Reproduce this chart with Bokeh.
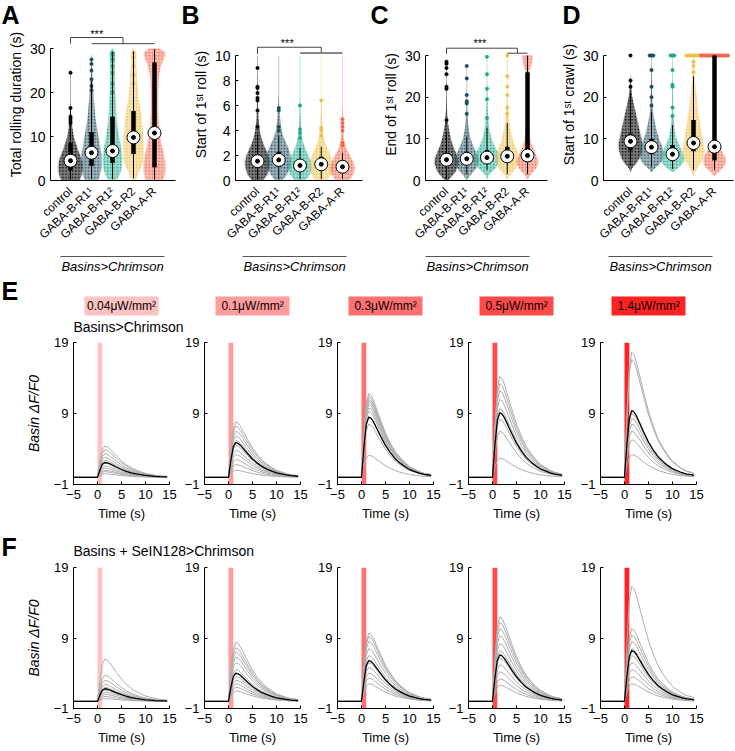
from bokeh.plotting import figure
from bokeh.models import FixedTicker, Range1d
from bokeh.layouts import column, row
from bokeh.core.properties import value
from bokeh.embed import file_html
from bokeh.resources import INLINE

FONT = "Liberation Sans"

# ---------------- data: panels A-D ----------------
groups = ["control", "GABA-B-R1\u00b9", "GABA-B-R1\u00b2", "GABA-B-R2", "GABA-A-R"]
group_colors = ["#000000", "#1E4A5C", "#1BA88D", "#EBC14E", "#F2664C"]
genotype = "Basins>Chrimson"

A_levels = [0, 1, 2, 3, 4, 5, 6, 7, 8, 9, 10, 12, 14, 16, 18, 20, 22, 24, 26, 28, 29, 30]
A_widths = [
    [0.50, 0.60, 0.65, 0.66, 0.65, 0.60, 0.50, 0.40, 0.33, 0.25, 0.18, 0.10, 0.05, 0.02, 0, 0, 0, 0, 0, 0, 0, 0],
    [0.35, 0.45, 0.50, 0.55, 0.55, 0.55, 0.55, 0.50, 0.45, 0.42, 0.38, 0.30, 0.22, 0.18, 0.14, 0.10, 0.07, 0.04, 0.02, 0.01, 0, 0],
    [0.20, 0.35, 0.45, 0.50, 0.52, 0.52, 0.50, 0.48, 0.45, 0.40, 0.35, 0.28, 0.22, 0.20, 0.18, 0.15, 0.13, 0.12, 0.12, 0.15, 0.15, 0.02],
    [0.10, 0.20, 0.30, 0.40, 0.50, 0.55, 0.55, 0.55, 0.55, 0.55, 0.55, 0.50, 0.45, 0.40, 0.30, 0.25, 0.20, 0.18, 0.15, 0.15, 0.15, 0.02],
    [0.45, 0.55, 0.60, 0.60, 0.60, 0.55, 0.50, 0.45, 0.40, 0.35, 0.30, 0.25, 0.22, 0.20, 0.20, 0.20, 0.22, 0.25, 0.35, 0.55, 0.60, 0.30],
]
A_med = [4.5, 6.3, 6.7, 9.8, 10.8]
A_q1 = [2.3, 3.3, 4.0, 6.0, 3.0]
A_q3 = [8.5, 11.0, 14.5, 15.8, 26.8]
A_wlo = [0.2, 0.3, 0.3, 0.5, 0.2]
A_whi = [16.5, 22.5, 29.2, 29.3, 29.8]
A_tail = [24.5, 28.0, 29.5, 29.5, 30.0]
A_pts = [[13.0, 13.5, 14.0, 14.5, 16.5, 24.5], [20.5, 21.5, 23.0, 25.0, 26.5, 27.5],
         [20.0, 22.0, 24.5, 26.0, 27.5, 28.5, 29.0], [22.0, 24.0, 26.0, 28.0, 29.0], []]

B_levels = [0, 0.5, 1, 1.5, 2, 2.5, 3, 3.5, 4, 5, 6, 7, 8, 9]
B_widths = [
    [0.30, 0.55, 0.65, 0.68, 0.60, 0.45, 0.30, 0.20, 0.12, 0.05, 0.03, 0.02, 0.01, 0],
    [0.20, 0.45, 0.60, 0.68, 0.65, 0.55, 0.40, 0.25, 0.15, 0.07, 0.02, 0, 0, 0],
    [0.30, 0.55, 0.65, 0.60, 0.45, 0.30, 0.18, 0.10, 0.06, 0.03, 0.01, 0, 0, 0],
    [0.30, 0.55, 0.65, 0.62, 0.50, 0.35, 0.22, 0.12, 0.07, 0.04, 0.02, 0, 0, 0],
    [0.35, 0.60, 0.68, 0.58, 0.40, 0.22, 0.12, 0.07, 0.04, 0.02, 0, 0, 0, 0],
]
B_med = [1.55, 1.65, 1.2, 1.3, 1.1]
B_q1 = [1.0, 1.1, 0.85, 0.9, 0.75]
B_q3 = [2.1, 2.3, 1.7, 1.9, 1.5]
B_wlo = [0.05, 0.1, 0.1, 0.1, 0.1]
B_whi = [3.7, 3.6, 2.6, 2.7, 2.2]
B_tail = [10.0, 10.0, 10.0, 10.0, 10.0]
B_pts = [[4.3, 5.6, 6.4, 6.6, 7.0, 7.4, 7.5, 9.0], [4.0, 4.3, 5.6, 5.8], [3.4, 3.8, 4.1, 6.0],
         [3.6, 4.0, 4.2, 6.4], [2.8, 3.0, 4.0, 4.3, 4.6, 4.9]]

C_levels = [0, 1, 2, 3, 4, 5, 6, 7, 8, 9, 10, 12, 14, 16, 18, 20, 22, 24, 26, 28, 30]
C_widths = [
    [0.10, 0.30, 0.50, 0.60, 0.68, 0.68, 0.60, 0.50, 0.40, 0.32, 0.25, 0.15, 0.08, 0.04, 0.02, 0.01, 0, 0, 0, 0, 0],
    [0, 0.15, 0.35, 0.55, 0.65, 0.68, 0.62, 0.50, 0.40, 0.30, 0.22, 0.12, 0.07, 0.04, 0.02, 0.01, 0, 0, 0, 0, 0],
    [0, 0.05, 0.25, 0.50, 0.62, 0.68, 0.65, 0.58, 0.45, 0.35, 0.25, 0.15, 0.09, 0.05, 0.03, 0.02, 0.01, 0, 0, 0, 0],
    [0, 0.10, 0.30, 0.50, 0.62, 0.68, 0.65, 0.58, 0.48, 0.38, 0.30, 0.20, 0.12, 0.07, 0.04, 0.02, 0.01, 0.01, 0.01, 0.02, 0],
    [0, 0.10, 0.30, 0.50, 0.60, 0.60, 0.50, 0.40, 0.30, 0.22, 0.15, 0.10, 0.07, 0.05, 0.04, 0.04, 0.04, 0.05, 0.08, 0.25, 0.30],
]
C_med = [5.0, 5.2, 5.5, 5.8, 6.0]
C_q1 = [3.7, 4.0, 4.3, 4.4, 4.5]
C_q3 = [6.5, 6.9, 7.3, 8.1, 26.0]
C_wlo = [0.3, 1.5, 2.5, 1.5, 1.5]
C_whi = [11.5, 10.5, 12.7, 13.8, 30.0]
C_tail = [28.5, 27.5, 29.7, 30.0, 30.0]
C_pts = [[14.5, 22.0, 22.5, 25.5, 27.0, 28.0, 28.5], [16.0, 18.5, 19.0, 20.5, 24.5, 27.5],
         [15.0, 19.5, 22.0, 25.5, 29.7], [16.0, 17.5, 20.5, 22.5, 25.0, 30.0], []]

D_levels = [0, 1, 2, 3, 4, 5, 6, 7, 8, 9, 10, 12, 14, 16, 18, 20, 22, 24, 26, 28, 30]
D_widths = [
    [0, 0, 0, 0.10, 0.30, 0.45, 0.55, 0.62, 0.65, 0.65, 0.60, 0.50, 0.40, 0.30, 0.20, 0.10, 0.05, 0.02, 0, 0, 0],
    [0, 0, 0, 0.20, 0.45, 0.60, 0.65, 0.65, 0.60, 0.50, 0.42, 0.28, 0.18, 0.10, 0.06, 0.04, 0.03, 0.02, 0.01, 0, 0],
    [0, 0, 0, 0.30, 0.55, 0.65, 0.62, 0.52, 0.42, 0.32, 0.22, 0.12, 0.07, 0.04, 0.03, 0.03, 0.02, 0.01, 0, 0, 0],
    [0, 0, 0.10, 0.20, 0.35, 0.50, 0.55, 0.60, 0.60, 0.55, 0.50, 0.42, 0.35, 0.28, 0.22, 0.18, 0.12, 0.08, 0.05, 0.03, 0],
    [0, 0, 0.20, 0.45, 0.60, 0.62, 0.55, 0.40, 0.25, 0.12, 0.06, 0.03, 0.02, 0.01, 0, 0, 0, 0, 0, 0, 0],
]
D_med = [9.4, 8.0, 6.3, 9.0, 8.1]
D_q1 = [7.2, 6.3, 5.0, 7.0, 4.8]
D_q3 = [11.2, 10.0, 8.5, 14.5, 30.0]
D_wlo = [3.5, 3.3, 2.8, 2.5, 2.5]
D_whi = [21.0, 16.5, 13.3, 25.0, 30.0]
D_tail = [24.0, 30.0, 30.0, 30.0, 30.0]
D_pts = [[22.5, 24.0], [18.0, 20.0, 22.5, 26.5], [15.5, 17.5, 22.5, 23.0, 26.5], [26.0, 27.5, 28.5], []]
D_n30 = [1, 3, 3, 9, 16]

# ---------------- data: panels E-F ----------------
powers = ["0.04\u03bcW/mm\u00b2", "0.1\u03bcW/mm\u00b2", "0.3\u03bcW/mm\u00b2", "0.5\u03bcW/mm\u00b2", "1.4\u03bcW/mm\u00b2"]
stim_colors = ["#FFC2C2", "#FF9C9C", "#FF7070", "#FF4A4A", "#FF2222"]
stim_on, stim_off = 0.0, 1.0
trace_t = [-5, -4, -3, -2, -1, 0, 0.5, 1, 1.5, 2, 2.5, 3, 4, 5, 6, 7, 8, 9, 10, 11, 12, 13, 14, 14.5]
trace_shape = [0, 0, 0, 0, 0, 0, 0.5, 0.88, 1.0, 0.98, 0.92, 0.84, 0.68, 0.53, 0.41, 0.31, 0.24,
               0.18, 0.13, 0.10, 0.07, 0.05, 0.04, 0.03]
E_mean = [2.1, 4.9, 8.5, 9.1, 9.4]
E_gray = [
    [0.5, 0.8, 1.0, 1.3, 1.6, 2.0, 2.4, 2.8, 3.3, 3.9, 4.4],
    [1.0, 1.8, 2.5, 3.2, 3.8, 4.5, 5.2, 5.8, 6.5, 7.2, 7.8],
    [3.1, 7.5, 8.5, 9.3, 9.8, 10.3, 10.7, 11.0, 11.4, 11.8],
    [2.7, 6.5, 8.2, 9.7, 11.0, 12.2, 13.2, 14.2],
    [3.2, 5.3, 6.5, 7.5, 8.3, 9.0, 16.6, 17.6],
]
F_mean = [1.8, 4.0, 5.8, 6.6, 7.2]
F_gray = [
    [0.4, 0.7, 1.0, 1.3, 1.6, 2.0, 2.4, 3.0, 3.7, 6.0],
    [1.5, 2.0, 2.5, 3.0, 3.5, 4.5, 5.5, 6.3, 7.0, 7.6, 8.4],
    [2.5, 3.3, 4.0, 4.8, 5.5, 6.5, 7.5, 8.5, 9.2, 9.7],
    [2.3, 3.2, 4.2, 5.2, 6.2, 7.2, 8.2, 9.3, 10.3, 11.2, 12.0],
    [2.5, 3.5, 4.5, 5.5, 6.5, 7.5, 8.5, 9.4, 10.3, 16.3],
]
E_subtitle = "Basins>Chrimson"
F_subtitle = "Basins + SeIN128>Chrimson"

# ---------------- layout constants (pixels) ----------------
W = 734
TOP_FH = 152


# ---------------- helpers ----------------
def style(p, tick_size, label_size):
    for ax in (p.xaxis[0], p.yaxis[0]):
        ax.axis_line_color = "black"
        ax.axis_line_width = 1
        ax.major_tick_in = 3
        ax.major_tick_out = 0
        ax.major_tick_line_color = "black"
        ax.minor_tick_line_color = None
        ax.major_label_text_font = FONT
        ax.major_label_text_font_size = tick_size
        ax.major_label_text_color = "black"
        ax.axis_label_text_font = FONT
        ax.axis_label_text_font_size = label_size
        ax.axis_label_text_font_style = "normal"
        ax.axis_label_text_color = "black"
    p.xgrid.visible = False
    p.ygrid.visible = False
    p.outline_line_color = None


def strip(height):
    p = figure(frame_width=W, frame_height=height, x_range=Range1d(0, W), y_range=Range1d(0, height),
               min_border=0, x_axis_location=None, y_axis_location=None, output_backend="svg",
               toolbar_location=None, title=None)
    p.xgrid.visible = False
    p.ygrid.visible = False
    p.outline_line_color = None
    return p


def put_text(p, xs, ys, texts, size, align="left", style_="normal", weight=None):
    p.text(x=xs, y=ys, text=texts, text_font=value(FONT), text_font_size=size, text_align=align,
           text_baseline="middle", text_font_style=weight or style_, text_color="black")


def violin_panel(frame_w, b_left, b_right, x0, px_cat, px_unit, yticks, ybound, ylabel,
                 levels, widths, med, q1, q3, wlo, whi, tail, pts, n30=None):
    y1 = TOP_FH / px_unit
    x1 = x0 + frame_w / px_cat
    p = figure(frame_width=frame_w, frame_height=TOP_FH, min_border_left=b_left, min_border_right=b_right,
               min_border_top=0, min_border_bottom=70, x_range=Range1d(x0, x1), y_range=Range1d(0, y1),
               output_backend="svg", toolbar_location=None, title=None)
    style(p, "14px", "14px")
    p.yaxis.ticker = FixedTicker(ticks=yticks)
    p.yaxis.bounds = ybound
    p.yaxis.axis_label = ylabel
    p.yaxis.major_label_standoff = 5
    p.yaxis.axis_label_standoff = 3
    p.xaxis.ticker = FixedTicker(ticks=[1, 2, 3, 4, 5])
    p.xaxis.major_label_overrides = {i + 1: g for i, g in enumerate(groups)}
    p.xaxis.major_label_orientation = 0.75
    p.xaxis.major_label_text_font_size = "12px"
    p.xaxis.major_tick_in = 0
    p.xaxis.major_label_standoff = 9
    for i in range(5):
        c = i + 1
        col = group_colors[i]
        w = [0.85 * v for v in widths[i]]
        ys = list(levels) + list(reversed(levels))
        xs_halo = [c + 1.12 * v for v in w] + [c - 1.12 * v for v in reversed(w)]
        xs = [c + v for v in w] + [c - v for v in reversed(w)]
        p.segment(x0=[c], y0=[q3[i]], x1=[c], y1=[tail[i]], line_color=col, line_alpha=0.3, line_width=1)
        p.patch(xs_halo, ys, fill_color=col, fill_alpha=0.12, line_color=None)
        p.patch(xs, ys, fill_color=col, fill_alpha=0.35 if i else 0.45, line_color=None,
                hatch_pattern="dot", hatch_color=col, hatch_alpha=1.0, hatch_scale=3.2, hatch_weight=1.6)
        if pts[i]:
            p.scatter(x=[c] * len(pts[i]), y=pts[i], size=3.5, fill_color=col, line_color=col, line_width=0.5)
        if n30 is not None and n30[i]:
            n = n30[i]
            p.scatter(x=[c + (k - (n - 1) / 2) * 0.085 for k in range(n)], y=[30] * n, size=3.5,
                      fill_color=col, line_color=col, line_width=0.5)
    for i in range(5):
        c = i + 1
        p.segment(x0=[c], y0=[wlo[i]], x1=[c], y1=[whi[i]], line_color="black", line_width=1)
        p.segment(x0=[c], y0=[q1[i]], x1=[c], y1=[q3[i]], line_color="black", line_width=4.5, line_cap="butt")
        p.scatter(x=[c], y=[med[i]], size=13, fill_color="white", line_color="black", line_width=1)
        p.scatter(x=[c], y=[med[i]], size=4, fill_color="black", line_color="black")
    return p


def bracket(p, xl, xr, y_top, y_left, y_right, lo_x0, lo_x1, y_lo, star_x, star_y, lo_color, lo_w):
    p.line([xl, xl, xr, xr], [y_left, y_top, y_top, y_right], line_color="#444444", line_width=1)
    p.line([lo_x0, lo_x1], [y_lo, y_lo], line_color=lo_color, line_width=lo_w)
    put_text(p, [star_x], [star_y], ["***"], "11px", align="center")


pA = violin_panel(125, 50, 5, 1 - 20 / 21, 21, 4.4, [0, 10, 20, 30], (0, 30),
                  "Total rolling duration (s)", A_levels, A_widths, A_med, A_q1, A_q3, A_wlo, A_whi,
                  A_tail, A_pts)
bracket(pA, 1, 3.5, 32.5, 31.1, 31.1, 2, 5, 31.1, 2.25, 33.4, "#444444", 1)

pB = violin_panel(127, 55, 8, 1 - 22 / 21.25, 21.25, 12.5, [0, 2, 4, 6, 8, 10], (0, 10),
                  "Start of 1\u02e2\u1d57 roll (s)", B_levels, B_widths, B_med, B_q1, B_q3, B_wlo, B_whi,
                  B_tail, B_pts)
bracket(pB, 1, 4, 10.66, 10.13, 10.2, 3, 5, 10.2, 2.4, 11.0, "#888888", 2)

pC = violin_panel(122, 55, 3, 1 - 21 / 20.25, 20.25, 152 / 36.48, [0, 10, 20, 30], (0, 30),
                  "End of 1\u02e2\u1d57 roll (s)", C_levels, C_widths, C_med, C_q1, C_q3, C_wlo, C_whi,
                  C_tail, C_pts)
bracket(pC, 1, 4.5, 31.75, 30.4, 30.55, 4, 5, 30.55, 2.65, 32.95, "#444444", 1)

pD = violin_panel(130, 53, 1, 1 - 27 / 21, 21, 152 / 36.48, [0, 10, 20, 30], (0, 30),
                  "Start of 1\u02e2\u1d57 crawl (s)", D_levels, D_widths, D_med, D_q1, D_q3, D_wlo, D_whi,
                  D_tail, D_pts, n30=D_n30)

# strip with panel letters A-D (28 px tall)
s_letters = strip(28)
put_text(s_letters, [1, 181, 370, 562], [14] * 4, ["A", "B", "C", "D"], "25px", weight="bold")

# strip with genotype underline under A-D (26 px tall)
under_cx = [112, 294, 477, 660]
s_geno = strip(26)
s_geno.segment(x0=[c - 52 for c in under_cx], y0=[20] * 4, x1=[c + 52 for c in under_cx], y1=[20] * 4,
               line_color="#555555", line_width=1)
put_text(s_geno, under_cx, [10] * 4, [genotype] * 4, "13px", align="center", style_="italic")


def trace_panel(k, amps, mean_amp, b_left, b_right, b_bottom, fh, first):
    p = figure(frame_width=96, frame_height=fh, min_border_left=b_left, min_border_right=b_right,
               min_border_top=7, min_border_bottom=b_bottom, x_range=Range1d(-5, 15),
               y_range=Range1d(-1, 19), output_backend="svg", toolbar_location=None, title=None)
    style(p, "13px", "13px")
    p.xaxis.ticker = FixedTicker(ticks=[-5, 0, 5, 10, 15])
    p.yaxis.ticker = FixedTicker(ticks=[-1, 9, 19])
    p.xaxis.axis_label = "Time (s)"
    p.xaxis.major_label_standoff = 5
    p.xaxis.axis_label_standoff = 4
    p.yaxis.major_label_standoff = 5
    if first:
        p.yaxis.axis_label = "Basin \u0394F/F0"
        p.yaxis.axis_label_text_font_style = "italic"
        p.yaxis.axis_label_text_font_size = "14px"
        p.yaxis.axis_label_standoff = 9
    p.quad(left=[stim_on], right=[stim_off], bottom=[-1], top=[19], fill_color=stim_colors[k],
           line_color=None)
    p.multi_line(xs=[trace_t] * len(amps), ys=[[a * s for s in trace_shape] for a in amps],
                 line_color="#ADADAD", line_width=1)
    p.line(trace_t, [mean_amp * s for s in trace_shape], line_color="black", line_width=1.3)
    return p


lefts = [73, 24, 26, 25, 26]
rights = [11, 11, 10, 10, 38]
frame_centers = [73 + 48, 180 + 24 + 48, 311 + 26 + 48, 443 + 25 + 48, 574 + 26 + 48]

# E header strip (59 px tall)
s_E = strip(59)
put_text(s_E, [1], [44.5], ["E"], "25px", weight="bold")
s_E.rect(x=frame_centers, y=[29.5] * 5, width=74, height=19, fill_color=stim_colors, line_color=None)
put_text(s_E, frame_centers, [29.5] * 5, powers, "12px", align="center")
put_text(s_E, [73], [8.5], [E_subtitle], "14px")

E_figs = [trace_panel(k, E_gray[k], E_mean[k], lefts[k], rights[k], 48, 142, k == 0) for k in range(5)]

# F header strip (28 px tall)
s_F = strip(28)
put_text(s_F, [1], [14], ["F"], "25px", weight="bold")
put_text(s_F, [73], [10], [F_subtitle], "14px")

F_figs = [trace_panel(k, F_gray[k], F_mean[k], lefts[k], rights[k], 42, 141, k == 0) for k in range(5)]

layout = column(s_letters, row(pA, pB, pC, pD, spacing=0), s_geno, s_E, row(*E_figs, spacing=0),
                s_F, row(*F_figs, spacing=0), spacing=0)
open("out.html", "w").write(file_html(layout, INLINE))
